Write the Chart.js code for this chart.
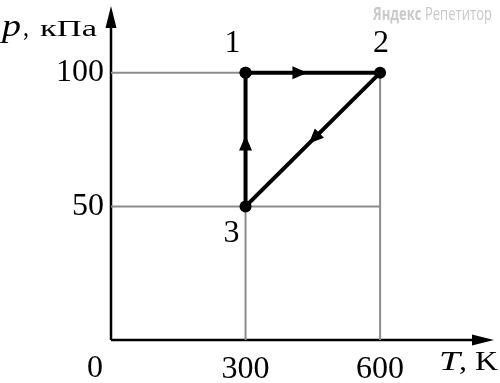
<!DOCTYPE html>
<html>
<head>
<meta charset="utf-8">
<script src="https://cdn.jsdelivr.net/npm/chart.js@4"></script>
<style>
  html, body { margin: 0; padding: 0; background: #fff; }
  #wrap { width: 500px; height: 383px; }
</style>
</head>
<body>
<div id="wrap"><canvas id="chart"></canvas></div>
<script>
// cycle 1 -> 2 -> 3 -> 1 on the p-T plane
const pointNames = ['1', '2', '3'];
const cycleT = [300, 600, 300, 300];
const cycleP = [100, 100, 50, 100];
const tTicks = [300, 600];
const pTicks = [50, 100];
const xTitle = 'T';
const xUnit = ', K';
const yTitle = 'p';
const yUnit = 'кПа';
const watermark = ['Яндекс', 'Репетитор'];

const serif = '"Liberation Serif", "Times New Roman", serif';
const tMax = Math.max(...tTicks);
const pMax = Math.max(...pTicks);

// guide lines (gray) built from the tick values
const guides = [];
tTicks.forEach(t => guides.push({
  data: [{ x: t, y: 0 }, { x: t, y: pMax }],
  showLine: true, borderColor: '#8c8c8c', borderWidth: 2, pointRadius: 0, order: 2
}));
pTicks.forEach(p => guides.push({
  data: [{ x: 0, y: p }, { x: tMax, y: p }],
  showLine: true, borderColor: '#8c8c8c', borderWidth: 2, pointRadius: 0, order: 2
}));

const cycle = cycleT.map((t, i) => ({ x: t, y: cycleP[i] }));

function tri(ctx, tipX, tipY, ux, uy, len, half) {
  const bx = tipX - ux * len, by = tipY - uy * len;
  ctx.beginPath();
  ctx.moveTo(tipX, tipY);
  ctx.lineTo(bx - uy * half, by + ux * half);
  ctx.lineTo(bx + uy * half, by - ux * half);
  ctx.closePath();
  ctx.fill();
}

// draw text squeezed/stretched to a given width
function fitText(ctx, str, x, y, width) {
  const w = ctx.measureText(str).width;
  ctx.save();
  ctx.translate(x, y);
  ctx.scale(width / w, 1);
  ctx.fillText(str, 0, 0);
  ctx.restore();
}

const decor = {
  id: 'decor',
  beforeDatasetsDraw(chart) {
    const { ctx, chartArea: a, scales: { x, y } } = chart;
    const x0 = x.getPixelForValue(0), y0 = y.getPixelForValue(0);
    ctx.save();
    ctx.strokeStyle = '#000';
    ctx.fillStyle = '#000';
    ctx.lineWidth = 2.5;
    ctx.beginPath();
    ctx.moveTo(x0, y0); ctx.lineTo(x0, a.top + 10);
    ctx.moveTo(x0, y0); ctx.lineTo(a.right - 10, y0);
    ctx.stroke();
    tri(ctx, x0, a.top, 0, -1, 22, 5.5);
    tri(ctx, a.right, y0, 1, 0, 22, 5.5);
    ctx.restore();
  },
  afterDatasetsDraw(chart) {
    const { ctx, scales: { x, y } } = chart;
    ctx.save();
    ctx.fillStyle = '#000';
    // direction arrows on each process
    for (let i = 0; i < cycle.length - 1; i++) {
      const ax = x.getPixelForValue(cycle[i].x), ay = y.getPixelForValue(cycle[i].y);
      const bx = x.getPixelForValue(cycle[i + 1].x), by = y.getPixelForValue(cycle[i + 1].y);
      const d = Math.hypot(bx - ax, by - ay);
      const ux = (bx - ax) / d, uy = (by - ay) / d;
      const f = i === 0 ? 0.46 : 0.53;
      tri(ctx, ax + (bx - ax) * f, ay + (by - ay) * f, ux, uy, 15, 6.5);
    }
    // state labels
    const offs = [[-13, -29], [1, -29], [-14, 27]];
    ctx.font = '32px ' + serif;
    ctx.textAlign = 'center';
    ctx.textBaseline = 'middle';
    pointNames.forEach((n, i) => {
      ctx.fillText(n, x.getPixelForValue(cycle[i].x) + offs[i][0],
                      y.getPixelForValue(cycle[i].y) + offs[i][1]);
    });
    // origin label
    ctx.fillText('0', x.getPixelForValue(0) - 16, y.getPixelForValue(0) + 29);
    // axis titles
    ctx.textAlign = 'left';
    ctx.textBaseline = 'alphabetic';
    ctx.font = 'italic 32px ' + serif;
    fitText(ctx, yTitle, 2, 36, 19);
    ctx.font = '28px ' + serif;
    fitText(ctx, ',', 23, 36, 6);
    ctx.font = '23px ' + serif;
    fitText(ctx, yUnit, 40, 36, 57);
    ctx.font = 'italic 27px ' + serif;
    fitText(ctx, xTitle, 439, 370, 21);
    ctx.font = '27px ' + serif;
    fitText(ctx, xUnit, 459, 370, 39);
    // watermark
    ctx.fillStyle = '#c9c9c9';
    ctx.font = 'bold 18px "Open Sans", sans-serif';
    const w1 = ctx.measureText(watermark[0] + ' ').width;
    ctx.font = '18px "Open Sans", sans-serif';
    const w2 = ctx.measureText(watermark[1]).width;
    const k = 119 / (w1 + w2);
    ctx.translate(373, 20);
    ctx.scale(k, 1);
    ctx.font = 'bold 18px "Open Sans", sans-serif';
    ctx.fillText(watermark[0], 0, 0);
    ctx.font = '18px "Open Sans", sans-serif';
    ctx.fillText(watermark[1], w1, 0);
    ctx.restore();
  }
};

new Chart(document.getElementById('chart'), {
  type: 'scatter',
  data: {
    datasets: guides.concat([{
      data: cycle,
      showLine: true,
      borderColor: '#000',
      borderWidth: 4,
      pointRadius: 6,
      pointBackgroundColor: '#000',
      pointBorderWidth: 0,
      order: 1
    }])
  },
  options: {
    responsive: true,
    maintainAspectRatio: false,
    animation: false,
    events: [],
    layout: { padding: { top: 2, right: 2, left: 0, bottom: 0 } },
    plugins: { legend: { display: false }, tooltip: { enabled: false } },
    scales: {
      x: {
        type: 'linear', min: 0, max: 854,
        afterFit: s => { s.height = 43; s.paddingLeft = 0; s.paddingRight = 0; },
        afterBuildTicks: s => { s.ticks = tTicks.map(v => ({ value: v })); },
        grid: { display: false, drawTicks: false },
        border: { display: false },
        ticks: { color: '#000', padding: 10, maxRotation: 0, font: { family: serif, size: 32 } }
      },
      y: {
        type: 'linear', min: 0, max: 125,
        afterFit: s => { s.width = 111; s.paddingTop = 0; s.paddingBottom = 0; },
        afterBuildTicks: s => { s.ticks = pTicks.map(v => ({ value: v })); },
        grid: { display: false, drawTicks: false },
        border: { display: false },
        ticks: { color: '#000', padding: 7, font: { family: serif, size: 32 } }
      }
    }
  },
  plugins: [decor]
});
</script>
</body>
</html>
